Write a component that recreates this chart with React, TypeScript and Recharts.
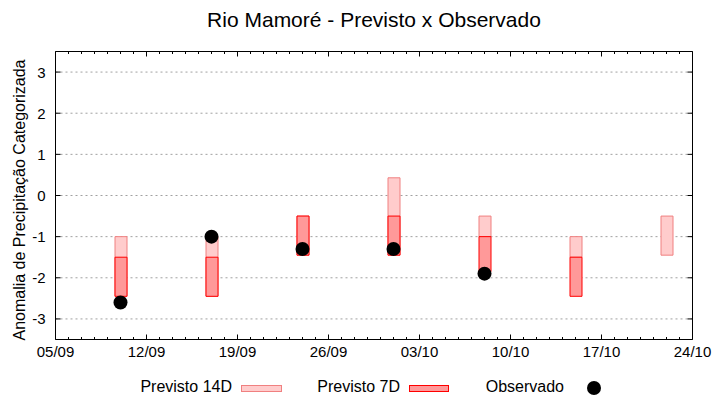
import React from 'react';
import { ComposedChart, Bar, Scatter, XAxis, YAxis, CartesianGrid, Legend } from 'recharts';

const DATE_LABELS = ['05/09', '12/09', '19/09', '26/09', '03/10', '10/10', '17/10', '24/10'];
const MAJOR_DAYS = [0, 7, 14, 21, 28, 35, 42, 49];
const DAY_TICKS = Array.from({ length: 50 }, (_, i) => i);
const Y_TICKS = [-3, -2, -1, 0, 1, 2, 3];

const FORECAST_DAYS = [5, 12, 19, 26, 33, 40, 47];
const PREV14_LOW = [-2.45, -2.45, -1.45, -1.45, -1.0, -1.5, -1.45];
const PREV14_HIGH = [-1.0, -1.0, -0.5, 0.43, -0.5, -1.0, -0.5];
const PREV7_LOW: (number | null)[] = [-2.45, -2.45, -1.45, -1.45, -1.85, -2.45, null];
const PREV7_HIGH: (number | null)[] = [-1.5, -1.5, -0.5, -0.5, -1.0, -1.5, null];

const OBS_DAYS = [5, 12, 19, 26, 33];
const OBS_VALUES = [-2.6, -1.0, -1.3, -1.3, -1.9];

const FONT = '"Liberation Sans", Arial, sans-serif';
const C14_FILL = '#ffcccc';
const C14_STROKE = '#f08080';
const C7_FILL = '#ff9999';
const C7_STROKE = '#ff0000';

const rows = FORECAST_DAYS.map((day, i) => ({
  day,
  p14: [PREV14_LOW[i], PREV14_HIGH[i]],
  p7: PREV7_LOW[i] === null ? null : [PREV7_LOW[i], PREV7_HIGH[i]],
}));

const obsRows = OBS_DAYS.map((day, i) => ({ day, obs: OBS_VALUES[i] }));

const BottomTick = (props: any) => {
  const { x, y, payload } = props;
  const v = payload.value;
  const idx = MAJOR_DAYS.indexOf(v);
  const major = idx >= 0;
  return (
    <g>
      <line x1={x} x2={x} y1={y} y2={y - (major ? 5 : 2.5)} stroke="#000" />
      {major && (
        <text x={x} y={y + 17} textAnchor="middle" fontFamily={FONT} fontSize={15} fill="#000">
          {DATE_LABELS[idx]}
        </text>
      )}
    </g>
  );
};

const TopTick = (props: any) => {
  const { x, y, payload } = props;
  const major = MAJOR_DAYS.indexOf(payload.value) >= 0;
  return <line x1={x} x2={x} y1={y} y2={y + (major ? 5 : 2.5)} stroke="#000" />;
};

const LeftTick = (props: any) => {
  const { x, y, payload } = props;
  return (
    <g>
      <line x1={x} x2={x + 5} y1={y} y2={y} stroke="#000" />
      <text x={x - 10} y={y + 5.5} textAnchor="end" fontFamily={FONT} fontSize={15} fill="#000">
        {payload.value}
      </text>
    </g>
  );
};

const RightTick = (props: any) => {
  const { x, y } = props;
  return <line x1={x} x2={x - 5} y1={y} y2={y} stroke="#000" />;
};

const LegendContent = () => (
  <svg width={720} height={32} style={{ display: 'block' }}>
    <g fontFamily={FONT} fontSize={16} fill="#000">
      <text x={232} y={24} textAnchor="end">Previsto 14D</text>
      <rect x={241.5} y={17.5} width={40} height={6} fill={C14_FILL} stroke={C14_STROKE} />
      <text x={400} y={24} textAnchor="end">Previsto 7D</text>
      <rect x={409.5} y={17.5} width={39} height={6} fill={C7_FILL} stroke={C7_STROKE} />
      <text x={564} y={24} textAnchor="end">Observado</text>
      <circle cx={594} cy={20} r={7} fill="#000" />
    </g>
  </svg>
);

const Dot = (props: any) => {
  const { cx, cy } = props;
  if (cx == null || cy == null) return null;
  return <circle cx={cx} cy={cy} r={7} fill="#000" />;
};

export default function App() {
  const black = { stroke: '#000' };
  return (
    <div style={{ position: 'absolute', left: 0, top: 0, width: 720, height: 400, background: '#fff' }}>
      <ComposedChart
        width={720}
        height={400}
        data={rows}
        margin={{ top: 50.5, right: 26.5, bottom: 59.5, left: 54.5 }}
      >
        <CartesianGrid
          vertical={false}
          yAxisId="left"
          xAxisId="main"
          stroke="#a0a0a0"
          strokeDasharray="2 3"
        />
        <XAxis
          xAxisId="main"
          dataKey="day"
          type="number"
          domain={[0, 49]}
          allowDataOverflow
          ticks={DAY_TICKS}
          interval={0}
          height={1}
          tickSize={0}
          tickMargin={0}
          axisLine={black}
          tickLine={false}
          tick={<BottomTick />}
        />
        <XAxis
          xAxisId="overlay"
          dataKey="day"
          type="number"
          domain={[0, 49]}
          allowDataOverflow
          height={0}
          hide
        />
        <XAxis
          xAxisId="top"
          orientation="top"
          dataKey="day"
          type="number"
          domain={[0, 49]}
          allowDataOverflow
          ticks={DAY_TICKS}
          interval={0}
          height={1}
          tickSize={0}
          tickMargin={0}
          axisLine={black}
          tickLine={false}
          tick={<TopTick />}
        />
        <YAxis
          yAxisId="left"
          type="number"
          domain={[-3.5, 3.5]}
          allowDataOverflow
          ticks={Y_TICKS}
          interval={0}
          width={1}
          tickSize={0}
          tickMargin={0}
          axisLine={black}
          tickLine={false}
          tick={<LeftTick />}
        />
        <YAxis
          yAxisId="right"
          orientation="right"
          type="number"
          domain={[-3.5, 3.5]}
          allowDataOverflow
          ticks={Y_TICKS}
          interval={0}
          width={1}
          tickSize={0}
          tickMargin={0}
          axisLine={black}
          tickLine={false}
          tick={<RightTick />}
        />
        <Bar
          xAxisId="main"
          yAxisId="left"
          dataKey="p14"
          name="Previsto 14D"
          barSize={12}
          fill={C14_FILL}
          stroke={C14_STROKE}
          strokeWidth={1}
          isAnimationActive={false}
        />
        <Bar
          xAxisId="overlay"
          yAxisId="left"
          dataKey="p7"
          name="Previsto 7D"
          barSize={12}
          fill={C7_FILL}
          stroke={C7_STROKE}
          strokeWidth={1}
          isAnimationActive={false}
        />
        <Scatter
          xAxisId="main"
          yAxisId="left"
          data={obsRows}
          dataKey="obs"
          name="Observado"
          fill="#000"
          shape={<Dot />}
          isAnimationActive={false}
        />
        <Legend
          layout="horizontal"
          verticalAlign="middle"
          align="center"
          content={<LegendContent />}
          wrapperStyle={{ left: 0, top: 368, width: 720, height: 32 }}
        />
      </ComposedChart>
      <svg
        width={720}
        height={400}
        style={{ position: 'absolute', left: 0, top: 0, pointerEvents: 'none' }}
      >
        <text x={374} y={27} textAnchor="middle" fontFamily={FONT} fontSize={21} fill="#000">
          Rio Mamoré - Previsto x Observado
        </text>
        <text
          x={19.5}
          y={200}
          transform="rotate(-90 19.5 200)"
          textAnchor="middle"
          dominantBaseline="central"
          fontFamily={FONT}
          fontSize={16}
          fill="#000"
        >
          Anomalia de Precipitação Categorizada
        </text>
      </svg>
    </div>
  );
}
